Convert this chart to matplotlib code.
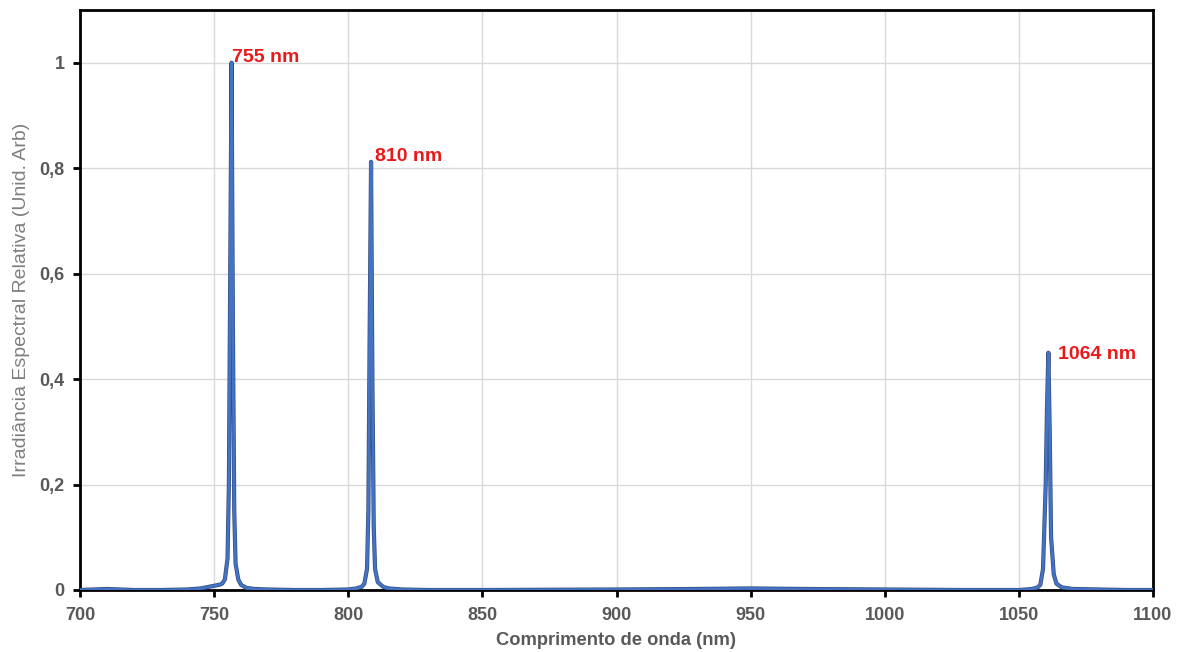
import matplotlib
matplotlib.use("Agg")
import matplotlib.pyplot as plt
import matplotlib.patheffects as pe
from matplotlib.ticker import FuncFormatter

# Spectrum (nm, relative irradiance)
wavelength = [700, 705, 710, 715, 720, 730, 740, 745, 748, 750, 752, 753, 754, 755,
              755.5, 756, 756.5, 757, 757.5, 758, 759, 760, 762, 765, 770, 780, 790,
              800, 803, 805, 806, 807, 807.5, 808, 808.5, 809, 809.5, 810, 811, 813,
              815, 820, 830, 850, 900, 930, 950, 970, 1000, 1030, 1050, 1055, 1057,
              1058, 1059, 1060, 1060.5, 1061, 1061.5, 1062, 1063, 1064, 1066, 1070,
              1080, 1090, 1100]
irradiance = [0.0, 0.001, 0.002, 0.001, 0.0, 0.0, 0.001, 0.003, 0.006, 0.008, 0.010, 0.012, 0.02, 0.06,
              0.2, 0.6, 1.0, 0.5, 0.15, 0.05, 0.02, 0.01, 0.004, 0.002, 0.001, 0.0, 0.0,
              0.001, 0.003, 0.006, 0.012, 0.04, 0.15, 0.5, 0.812, 0.4, 0.12, 0.04, 0.015, 0.006,
              0.003, 0.001, 0.0, 0.0, 0.001, 0.002, 0.003, 0.002, 0.001, 0.0, 0.0, 0.002, 0.005,
              0.01, 0.04, 0.2, 0.35, 0.45, 0.3, 0.1, 0.03, 0.012, 0.005, 0.002,
              0.001, 0.0, 0.0]

peak_labels = ["755 nm", "810 nm", "1064 nm"]
peak_x = [756.5, 808.5, 1061]
peak_y = [1.0, 0.812, 0.45]
label_offsets = [(0, 4), (3, 4), (7, -1)]

x_ticks = [700, 750, 800, 850, 900, 950, 1000, 1050, 1100]
y_ticks = [0, 0.2, 0.4, 0.6, 0.8, 1.0]

plt.rcParams['font.family'] = ['Liberation Sans', 'DejaVu Sans']

fig = plt.figure(figsize=(11.77, 6.52), dpi=100)
ax = fig.add_axes([80/1177, 1 - 590/652, (1153-80)/1177, (590-10)/652])

ax.plot(wavelength, irradiance, color='#4472C4', lw=2.0, zorder=3,
        path_effects=[pe.Stroke(linewidth=3.0, foreground='#34507f'), pe.Normal()])

for lab, px, py, off in zip(peak_labels, peak_x, peak_y, label_offsets):
    ax.annotate(lab, (px, py), xytext=off, textcoords='offset points',
                color='#E8191A', fontsize=14, fontweight='bold', ha='left', va='center')

ax.set_xlim(700, 1100)
ax.set_ylim(0, 1.1)
ax.set_xticks(x_ticks)
ax.set_yticks(y_ticks)
ax.yaxis.set_major_formatter(FuncFormatter(lambda v, p: ('%g' % v).replace('.', ',')))
ax.grid(True, color='#d9d9d9', lw=1.0)
ax.set_axisbelow(True)
for s in ax.spines.values():
    s.set_color('black')
    s.set_linewidth(2)
ax.tick_params(axis='both', direction='out', length=5, width=2, color='black',
               labelcolor='#595959', labelsize=13)
ax.tick_params(axis='x', pad=7)
ax.tick_params(axis='y', pad=6)
for t in ax.get_xticklabels() + ax.get_yticklabels():
    t.set_fontweight('bold')

ax.set_xlabel('Comprimento de onda (nm)', fontsize=13.2, fontweight='bold', color='#595959', labelpad=6)
ax.set_ylabel('Irradiância Espectral Relativa (Unid. Arb)', fontsize=14, color='#7f7f7f', labelpad=7)

fig.savefig('out.png', dpi=100)
